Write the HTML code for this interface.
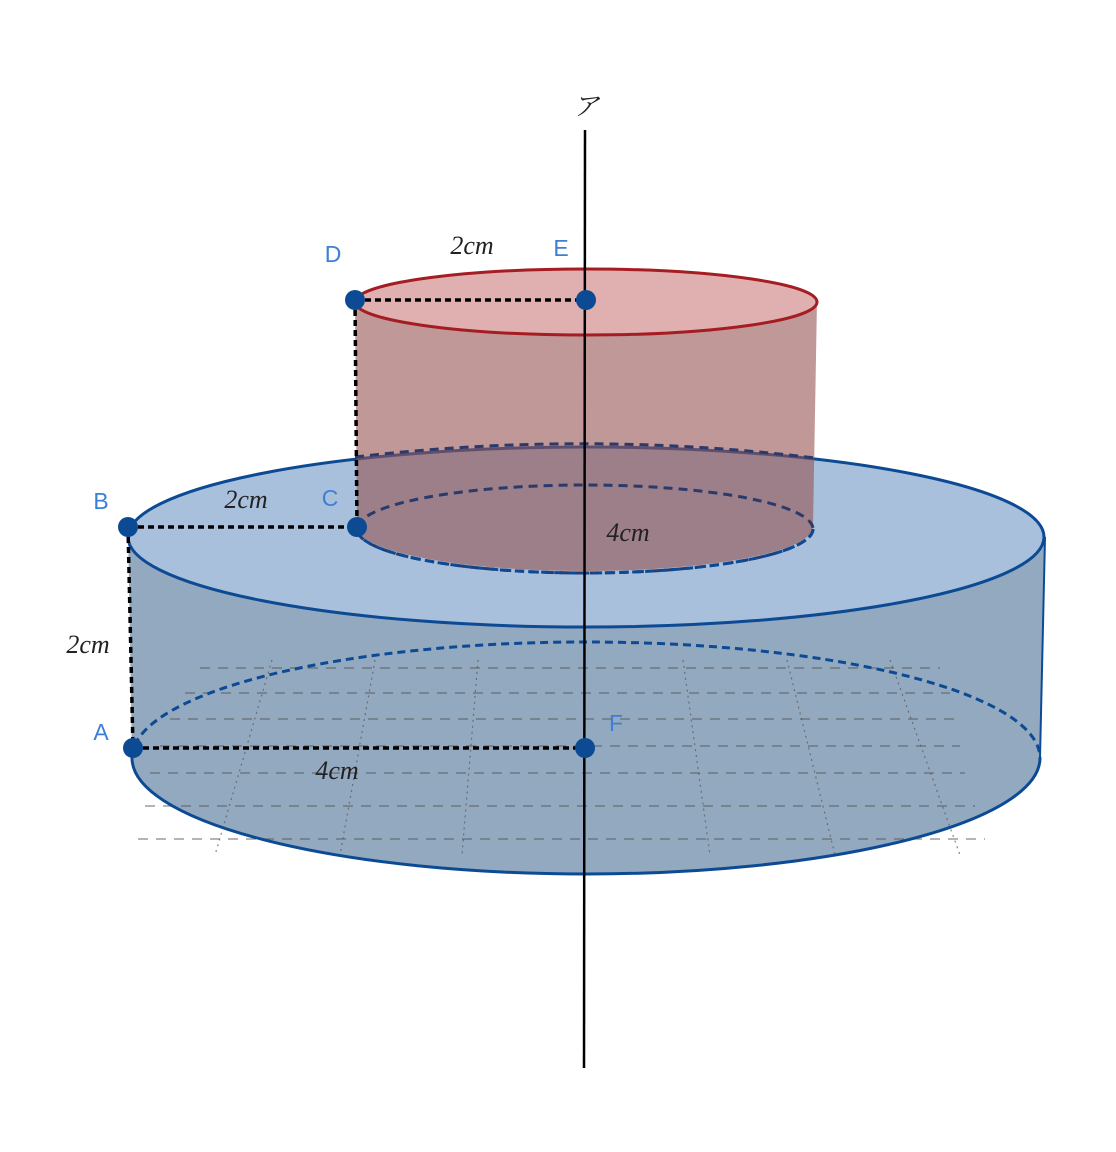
<!DOCTYPE html>
<html><head><meta charset="utf-8"><style>html,body{margin:0;padding:0;background:#fff}svg{display:block}</style></head>
<body>
<svg width="1116" height="1152" viewBox="0 0 1116 1152" xmlns="http://www.w3.org/2000/svg">
<!-- big cylinder body -->
<path d="M128,527 L132,758 A454,116 0 0 0 1040,758 L1045,537 Z" fill="#93a9c0"/>
<ellipse cx="586" cy="758" rx="454" ry="116" fill="#93a9c0"/>
<!-- grid -->
<g stroke="#555" stroke-width="1.2" stroke-dasharray="10 8" opacity="0.7">
<line x1="200" y1="668" x2="940" y2="668"/>
<line x1="185" y1="693" x2="950" y2="693"/>
<line x1="170" y1="719" x2="960" y2="719"/>
<line x1="160" y1="746" x2="960" y2="746"/>
<line x1="150" y1="773" x2="965" y2="773"/>
<line x1="145" y1="806" x2="975" y2="806"/>
<line x1="138" y1="839" x2="985" y2="839"/>
</g>
<g stroke="#555" stroke-width="1.2" stroke-dasharray="2 4" opacity="0.7">
<line x1="272" y1="660" x2="215" y2="855"/>
<line x1="375" y1="660" x2="340" y2="855"/>
<line x1="478" y1="660" x2="462" y2="855"/>
<line x1="683" y1="660" x2="710" y2="855"/>
<line x1="787" y1="660" x2="835" y2="855"/>
<line x1="890" y1="660" x2="960" y2="855"/>
</g>
<!-- bottom ellipse -->
<path d="M132,758 A454,116 0 0 0 1040,758" fill="none" stroke="#0d4a94" stroke-width="3"/>
<path d="M132,758 A454,116 0 0 1 1040,758" fill="none" stroke="#0d4a94" stroke-width="3" stroke-dasharray="8 5"/>
<line x1="1045" y1="537" x2="1040" y2="758" stroke="#0d4a94" stroke-width="2"/>
<!-- big top -->
<ellipse cx="586" cy="537" rx="458" ry="90" fill="#a9c0dc" stroke="#0d4a94" stroke-width="3"/>
<!-- red cylinder side -->
<path d="M355,300 L357,527 A228,44 0 0 0 813,527 L817,300 Z" fill="rgb(150,83,83)" fill-opacity="0.6"/>
<path d="M355,457 Q586,430 815,458" fill="none" stroke="#2a3a6a" stroke-width="3" stroke-dasharray="9 6"/>
<!-- inner ellipse -->
<ellipse cx="585" cy="529" rx="228" ry="44" fill="none" stroke="#2a3a6a" stroke-width="3" stroke-dasharray="9 6"/>
<path d="M357,529 A228,44 0 0 0 813,529" fill="none" stroke="#0d4a94" stroke-width="3" stroke-dasharray="9 4"/>
<!-- red top -->
<ellipse cx="586" cy="302" rx="231" ry="33" fill="#e0b0b0" stroke="#a51d22" stroke-width="3"/>
<!-- axis -->
<line x1="585" y1="130" x2="584" y2="1068" stroke="#000" stroke-width="2.5"/>
<g stroke="#000" stroke-width="3.5" stroke-dasharray="6 4" fill="none">
<line x1="355" y1="300" x2="585" y2="300"/>
<line x1="355" y1="300" x2="357" y2="527"/>
<line x1="128" y1="527" x2="357" y2="527"/>
<line x1="128" y1="527" x2="133" y2="748"/>
<line x1="133" y1="748" x2="585" y2="748"/>
</g>
<g fill="#0d4a94">
<circle cx="355" cy="300" r="10"/><circle cx="586" cy="300" r="10"/>
<circle cx="128" cy="527" r="10"/><circle cx="357" cy="527" r="10"/>
<circle cx="133" cy="748" r="10"/><circle cx="585" cy="748" r="10"/>
</g>
<g font-family="Liberation Sans, sans-serif" font-size="23" fill="#3d7fd4" text-anchor="middle">
<text x="333" y="262">D</text><text x="561" y="256">E</text>
<text x="101" y="509">B</text><text x="330" y="506">C</text>
<text x="101" y="740">A</text><text x="616" y="731">F</text>
</g>
<g font-family="Liberation Serif, serif" font-style="italic" font-size="26" fill="#222" text-anchor="middle">
<text x="472" y="254">2cm</text><text x="246" y="508">2cm</text>
<text x="88" y="653">2cm</text><text x="628" y="541">4cm</text>
<text x="337" y="779">4cm</text>
</g>
<text x="586" y="115" font-family="Liberation Serif, 'Noto Serif CJK SC', serif" font-style="italic" font-size="26" fill="#222" text-anchor="middle">ア</text>
</svg>
</body></html>
